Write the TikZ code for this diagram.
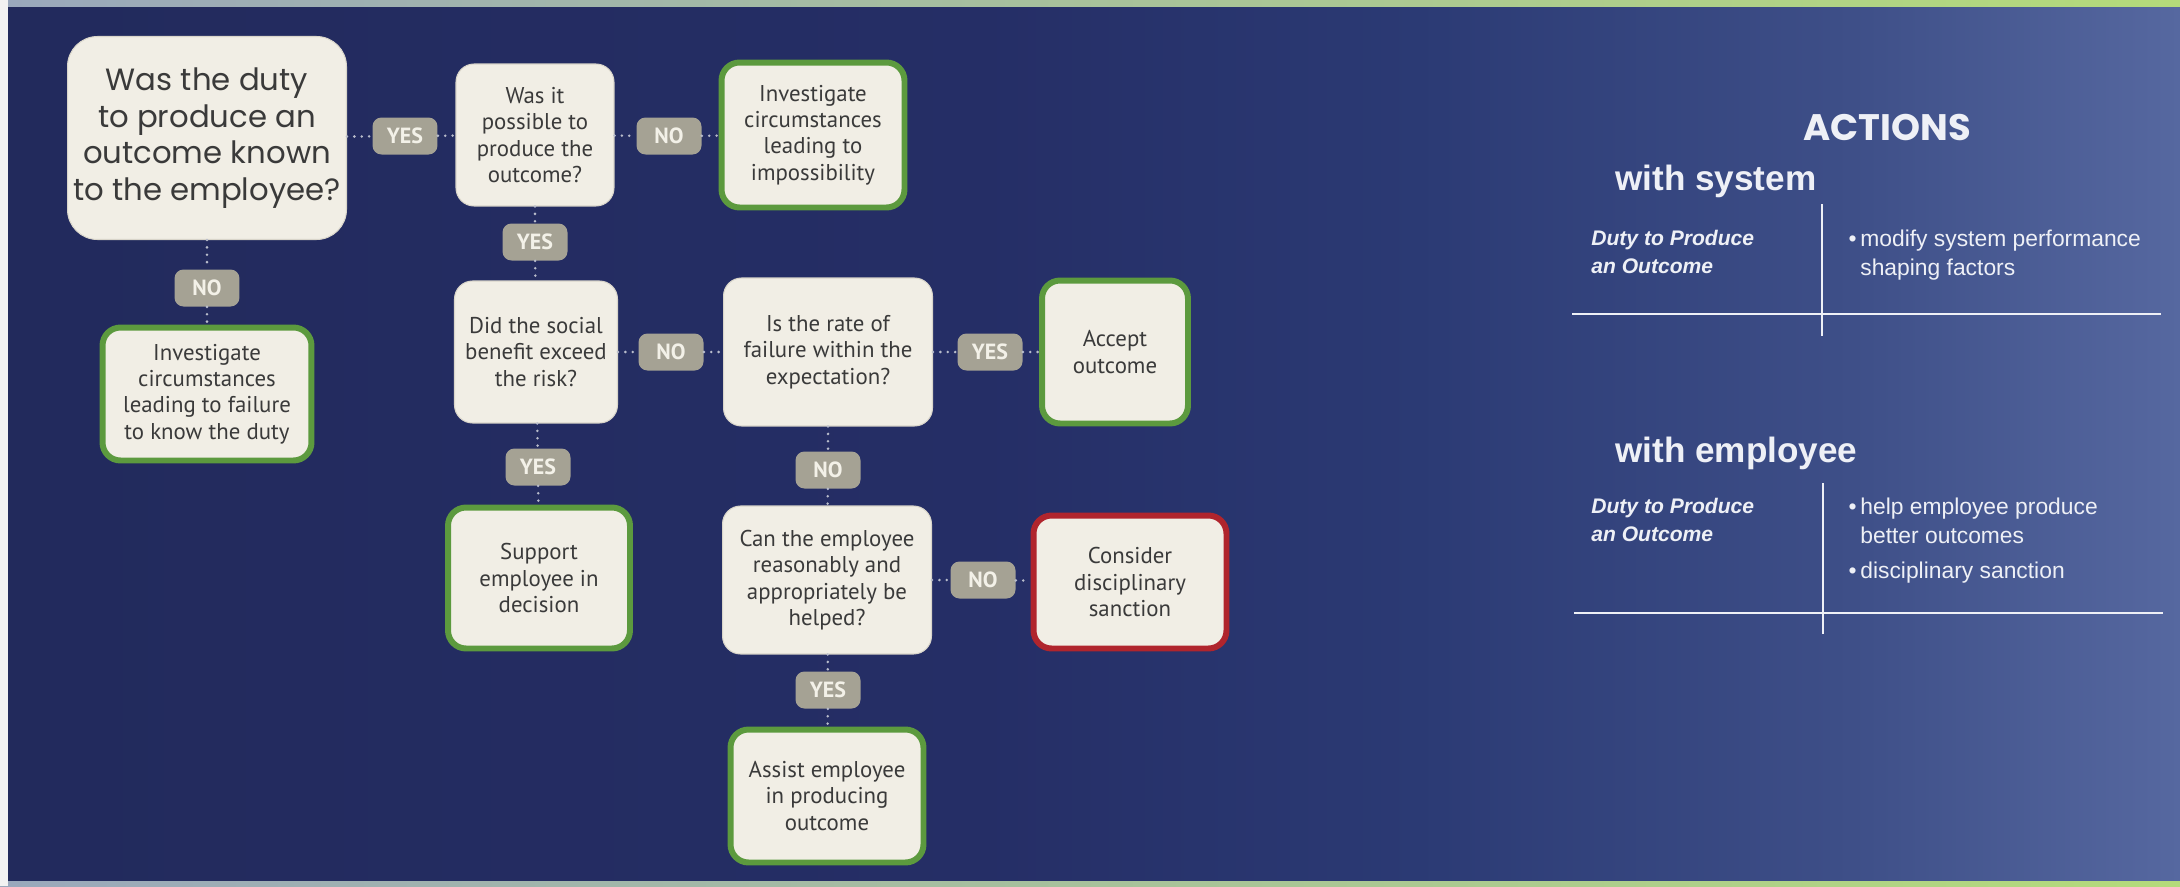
\documentclass[tikz,border=0pt]{standalone}
\usepackage{fontspec}
\setmainfont{PT Sans}
\newfontfamily\roundfont{Poppins}
\newfontfamily\tablefont{Liberation Sans}
\usepackage{xcolor}

\definecolor{navyleft}{HTML}{222A5C}
\definecolor{navydeep}{HTML}{252E66}
\definecolor{navymid}{HTML}{2B3A74}
\definecolor{navylight}{HTML}{3E4F88}
\definecolor{navyright}{HTML}{5668A0}
\definecolor{edgegray}{HTML}{9AA8BC}
\definecolor{edgegreen}{HTML}{B4DB7A}
\definecolor{cream}{HTML}{F1EEE5}
\definecolor{boxedge}{HTML}{D9D5CA}
\definecolor{ink}{HTML}{3A3A3A}
\definecolor{okgreen}{HTML}{5C9A3E}
\definecolor{stopred}{HTML}{B0252D}
\definecolor{tagfill}{HTML}{A5A294}
\definecolor{tagtext}{HTML}{F3F1E8}
\definecolor{dotcolor}{HTML}{B8BCCB}
\definecolor{tabletext}{HTML}{EEF0F6}

% the path spans 25bp..75bp of the shading
\pgfdeclarehorizontalshading{backdrop}{100bp}{color(0bp)=(navyleft); color(25bp)=(navyleft);
  color(47.5bp)=(navydeep); color(57.5bp)=(navymid); color(67.5bp)=(navylight);
  color(75bp)=(navyright); color(100bp)=(navyright)}

\begin{document}
\begin{tikzpicture}[x=0.02cm, y=-0.02cm,
       box/.style={rectangle, rounded corners=0.36cm, fill=cream, draw=boxedge,
         line width=0.6pt, text=ink, align=center, inner sep=1pt,
         font=\fontsize{13}{15}\selectfont},
       greenbox/.style={box, draw=okgreen, line width=3.4pt},
       redbox/.style={box, draw=stopred, line width=3.4pt},
       answer/.style={rectangle, rounded corners=0.18cm, fill=tagfill, text=tagtext,
         minimum width=1.3cm, minimum height=0.74cm, inner sep=0pt,
         font=\bfseries\fontsize{12.5}{14}\selectfont},
       dotlink/.style={draw=dotcolor, line width=1.6pt, line cap=round,
         dash pattern=on 0pt off 4.2pt},
       heading/.style={text=tabletext, inner sep=0pt,
         font=\tablefont\bfseries\fontsize{20}{24}\selectfont},
       cell/.style={text=tabletext, inner sep=0pt, align=left, anchor=north west,
         font=\tablefont\fontsize{13}{16}\selectfont},
       tablerule/.style={draw=tabletext, line width=1.4pt}]

	% background
	\useasboundingbox (0,0) rectangle (2180,886);
	\fill [shading=backdrop] (0,0) rectangle (2180,886);
	\fill [left color=edgegray, right color=edgegreen] (0,0) rectangle (2180,6);
	\fill [left color=edgegray, right color=edgegreen] (0,881) rectangle (2180,886);
	\fill [white!90!gray] (0,0) rectangle (8,886);

	% flow chart
	\node [box, font=\roundfont\fontsize{17.5}{20.8}\selectfont, rounded corners=0.6cm,
	       minimum width=5.58cm, minimum height=4.06cm] (duty) at (207,138)
	       {Was the duty\\to produce an\\outcome known\\to the employee?};
	\node [box, minimum width=3.16cm, minimum height=2.84cm] (possible) at (535,135) {Was it\\possible to\\produce the\\outcome?};
	\node [greenbox, minimum width=3.66cm, minimum height=2.9cm] (impossible) at (813,135) {Investigate\\circumstances\\leading to\\impossibility};
	\node [greenbox, minimum width=4.18cm, minimum height=2.66cm] (unknown) at (207,394) {Investigate\\circumstances\\leading to failure\\to know the duty};
	\node [box, minimum width=3.26cm, minimum height=2.84cm] (benefit) at (536,352) {Did the social\\benefit exceed\\the risk?};
	\node [box, minimum width=4.18cm, minimum height=2.96cm] (rate) at (828,352) {Is the rate of\\failure within the\\expectation?};
	\node [greenbox, minimum width=2.92cm, minimum height=2.86cm] (accept) at (1115,352) {Accept\\outcome};
	\node [greenbox, minimum width=3.64cm, minimum height=2.82cm] (support) at (539,578) {Support\\employee in\\decision};
	\node [box, minimum width=4.18cm, minimum height=2.96cm] (helped) at (827,580) {Can the employee\\reasonably and\\appropriately be\\helped?};
	\node [redbox, minimum width=3.86cm, minimum height=2.66cm] (sanction) at (1130,582) {Consider\\disciplinary\\sanction};
	\node [greenbox, minimum width=3.86cm, minimum height=2.66cm] (assist) at (827,796) {Assist employee\\in producing\\outcome};

	\node [answer] (y1) at (405,136) {YES};
	\node [answer] (n1) at (669,136) {NO};
	\node [answer] (y2) at (535,242) {YES};
	\node [answer] (n2) at (207,288) {NO};
	\node [answer] (n3) at (671,352) {NO};
	\node [answer] (y3) at (990,352) {YES};
	\node [answer] (y4) at (538,467) {YES};
	\node [answer] (n4) at (828,470) {NO};
	\node [answer] (n5) at (983,580) {NO};
	\node [answer] (y5) at (828,690) {YES};

	\path [dotlink] (duty) edge (y1) (y1) edge (possible);
	\path [dotlink] (possible) edge (n1) (n1) edge (impossible);
	\path [dotlink] (possible) edge (y2) (y2) edge (benefit);
	\path [dotlink] (duty) edge (n2) (n2) edge (unknown);
	\path [dotlink] (benefit) edge (n3) (n3) edge (rate);
	\path [dotlink] (rate) edge (y3) (y3) edge (accept);
	\path [dotlink] (benefit) edge (y4) (y4) edge (support);
	\path [dotlink] (rate) edge (n4) (n4) edge (helped);
	\path [dotlink] (helped) edge (n5) (n5) edge (sanction);
	\path [dotlink] (helped) edge (y5) (y5) edge (assist);

	% actions table
	\node [text=tabletext, font=\roundfont\bfseries\fontsize{21}{24}\selectfont] (actions) at (1887,127) {ACTIONS};
	\node [heading, anchor=base west] (withsys) at (1615,190) {with system};
	\node [cell, font=\tablefont\bfseries\itshape\fontsize{12}{16}\selectfont] (sysduty) at (1591,230) {Duty to Produce\\an Outcome};
	\node [cell] (sysact) at (1860,230) {\llap{\textbullet\,}modify system performance\\shaping factors};
	\draw [tablerule] (1572,314) -- (2161,314);
	\draw [tablerule] (1822,204) -- (1822,336);

	\node [heading, anchor=base west] (withemp) at (1615,462) {with employee};
	\node [cell, font=\tablefont\bfseries\itshape\fontsize{12}{16}\selectfont] (empduty) at (1591,498) {Duty to Produce\\an Outcome};
	\node [cell] (empact) at (1860,498) {\llap{\textbullet\,}help employee produce\\better outcomes\\[4pt]\llap{\textbullet\,}disciplinary sanction};
	\draw [tablerule] (1574,613) -- (2163,613);
	\draw [tablerule] (1823,483) -- (1823,634);
\end{tikzpicture}
\end{document}
